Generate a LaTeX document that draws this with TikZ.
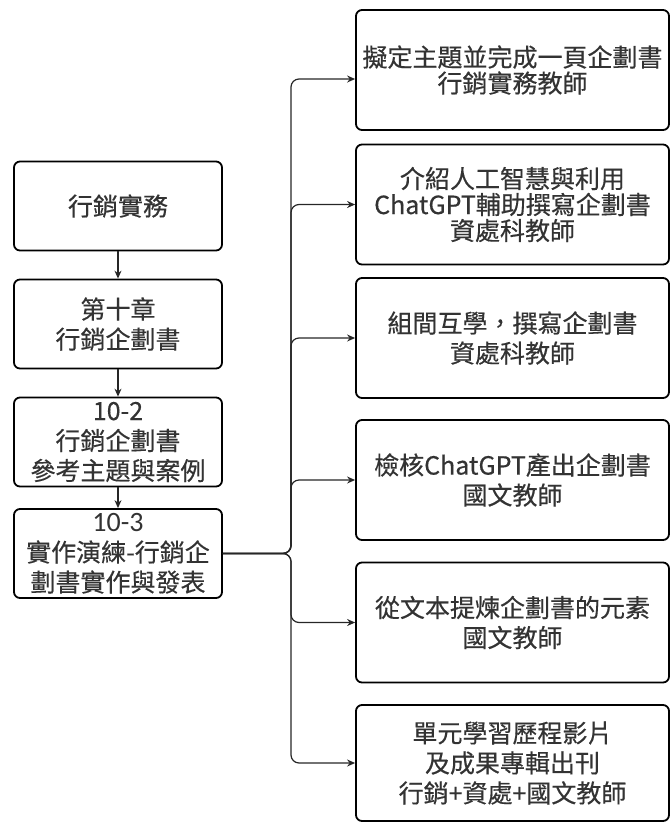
\documentclass[tikz,border=0pt]{standalone}
\usepackage{fontspec}
\setmainfont{Noto Sans CJK TC}[FakeBold=0.4]
\newfontfamily\numfont{Carlito}
\usetikzlibrary{positioning}
\usetikzlibrary{arrows.meta}

\begin{document}
\begin{tikzpicture}[
    x = 1pt, y = -1pt,
    >= {Stealth[length = 8pt, width = 7pt]},
    step box/.style = {shape = rectangle, draw = black, line width = 1.8pt, rounded corners = 6pt, align = center, inner sep = 0pt, text = black!80, font = \fontsize{25}{30}\selectfont},
    left box/.style = {step box, minimum width = 208pt, minimum height = 89pt},
    task box/.style = {step box, minimum width = 313pt, minimum height = 120pt},
    link/.style = {line width = 1.2pt, draw = black!85, rounded corners = 8pt},
    ]
    \useasboundingbox (0,0) rectangle (671,823);

    \node[left box] (unit) at (118, 206) {行銷實務};
    \node[left box] (chap) at (118, 324) {第十章\\行銷企劃書};
    \node[left box] (sec2) at (118, 442) {10-2\\行銷企劃書\\參考主題與案例};
    \node[left box] (sec3) at (118, 553.5) {{\numfont\fontsize{28}{30}\selectfont 10-3}\\實作演練-行銷企\\劃書實作與發表};

    \node[task box, font = \fontsize{25}{26}\selectfont] (theme) at (512.5, 70) {擬定主題並完成一頁企劃書\\行銷實務教師};
    \node[task box, font = \fontsize{25}{26}\selectfont] (intro) at (512.5, 204.5) {介紹人工智慧與利用\\ChatGPT輔助撰寫企劃書\\資處科教師};
    \node[task box] (peer) at (512.5, 338) {組間互學，撰寫企劃書\\資處科教師};
    \node[task box] (check) at (512.5, 480) {檢核ChatGPT產出企劃書\\國文教師};
    \node[task box] (refine) at (512.5, 622.5) {從文本提煉企劃書的元素\\國文教師};
    \node[task box, minimum height = 116pt] (album) at (512.5, 763) {單元學習歷程影片\\及成果專輯出刊\\行銷+資處+國文教師};

    \coordinate (fork) at (291, 553.5);

    \draw[->, link] (unit) -- (chap);
    \draw[->, link] (chap) -- (sec2);
    \draw[->, link] (sec2) -- (sec3);

    \draw[->, link] (sec3.east) -- (fork) |- ([yshift = -9pt]theme.west);
    \draw[->, link] (sec3.east) -- (fork) |- (intro.west);
    \draw[->, link] (sec3.east) -- (fork) |- (peer.west);
    \draw[->, link] (sec3.east) -- (fork) |- (check.west);
    \draw[->, link] (sec3.east) -- (fork) |- (refine.west);
    \draw[->, link] (sec3.east) -- (fork) |- (album.west);
\end{tikzpicture}
\end{document}
